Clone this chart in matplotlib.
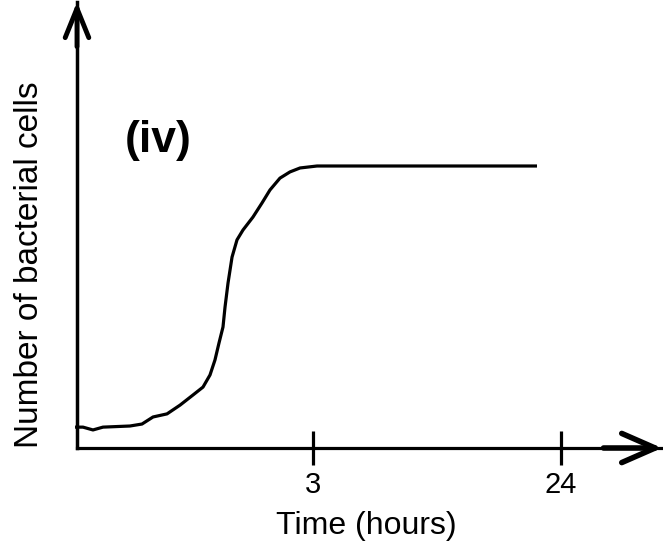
import matplotlib.pyplot as plt

plt.rcParams['font.family'] = ['Liberation Sans', 'DejaVu Sans']

# growth curve (x in axis units, plateau = 1)
time_pos = [-0.025, 0.076, 0.203, 0.330, 0.673, 0.826, 0.966, 1.144, 1.309,
            1.474, 1.601, 1.690, 1.753, 1.804, 1.855, 1.881, 1.919, 1.970,
            2.033, 2.109, 2.236, 2.351, 2.452, 2.579, 2.706, 2.834, 3.050,
            3.469, 5.845]
cells = [0.074, 0.074, 0.064, 0.074, 0.078, 0.085, 0.110, 0.121, 0.152,
         0.188, 0.216, 0.259, 0.312, 0.372, 0.429, 0.500, 0.585, 0.677,
         0.738, 0.773, 0.819, 0.869, 0.915, 0.957, 0.979, 0.993, 1.000,
         1.000, 1.000]

tick_pos = [3.0, 6.15]
tick_labels = ['3', '24']

fig = plt.figure(figsize=(6.63, 5.51), dpi=100)
# axes box placed so the origin sits where the sketch has it
ax = fig.add_axes([77 / 663, 103 / 551, 585 / 663, 446 / 551])
ax.set_xlim(0, 585 / 78.7)
ax.set_ylim(0, 446 / 282)

ax.plot(time_pos, cells, color='black', lw=2.3, clip_on=False,
        solid_capstyle='butt')

for side in ['top', 'right']:
    ax.spines[side].set_visible(False)
ax.spines['left'].set_linewidth(2.5)
ax.spines['bottom'].set_linewidth(2.3)

ax.set_yticks([])
ax.set_xticks(tick_pos)
ax.set_xticklabels(tick_labels, fontsize=21)
ax.tick_params(axis='x', direction='inout', length=24.5, width=2.3, pad=4)

# arrow heads on both axes
ax.annotate('', xy=(1.0, 0), xytext=(0.9, 0), xycoords='axes fraction',
            arrowprops=dict(arrowstyle='->,head_length=2.4,head_width=1.05',
                            lw=4, color='black', mutation_scale=10,
                            shrinkA=0, shrinkB=0), annotation_clip=False)
ax.annotate('', xy=(0, 1.0), xytext=(0, 0.9), xycoords='axes fraction',
            arrowprops=dict(arrowstyle='->,head_length=2.1,head_width=0.85',
                            lw=3.5, color='black', mutation_scale=10,
                            shrinkA=0, shrinkB=0), annotation_clip=False)

ax.set_xlabel('Time (hours)', fontsize=23)
ax.xaxis.set_label_coords(0.494, -0.141)
ax.set_ylabel('Number of bacterial cells', fontsize=24)
ax.yaxis.set_label_coords(-0.055, 0.41)

ax.text(1.03, 1.09, '(iv)', fontsize=32, fontweight='bold',
        ha='center', va='center')

fig.savefig('out.png', dpi=100)
